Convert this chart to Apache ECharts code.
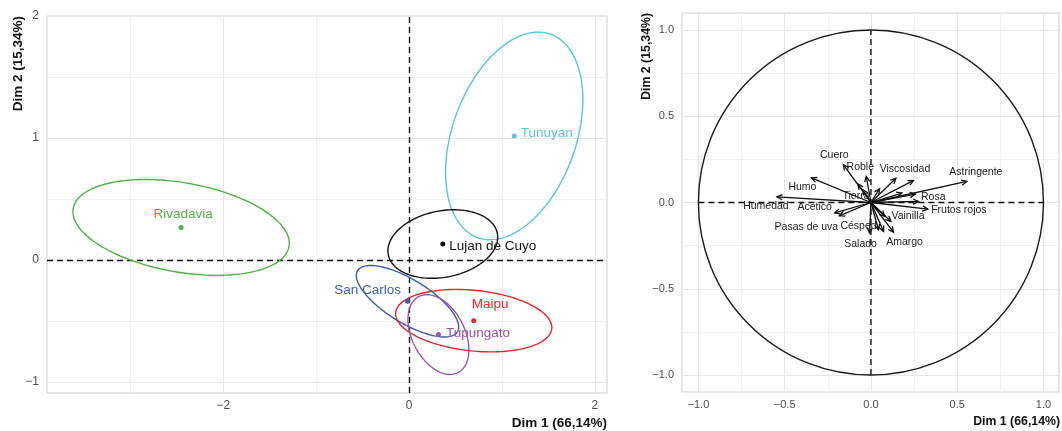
<!DOCTYPE html>
<html>
<head>
<meta charset="utf-8">
<script src="https://cdn.jsdelivr.net/npm/echarts@6/dist/echarts.min.js"></script>
<style>
  html, body { margin: 0; padding: 0; background: #ffffff; }
  #chart { width: 1062px; height: 431px; }
</style>
</head>
<body>
<div id="chart"></div>
<script>
// ---------- Individuals map: group centres on Dim 1 / Dim 2 ----------
const groups    = ['Rivadavia', 'Tunuyan', 'Lujan de Cuyo', 'San Carlos', 'Maipu', 'Tupungato'];
const groupDim1 = [-2.456, 1.131, 0.362, -0.018, 0.695, 0.315];
const groupDim2 = [0.267, 1.017, 0.131, -0.338, -0.497, -0.611];
// Confidence ellipses: half-extent on Dim 1, half-extent on Dim 2, correlation
const ellipseSx = [1.165, 0.739, 0.591, 0.551, 0.841, 0.328];
const ellipseSy = [0.393, 0.851, 0.281, 0.293, 0.256, 0.327];
const ellipseR  = [-0.33, 0.35, 0.20, -0.72, -0.22, -0.38];

// ---------- Variables map: loadings on Dim 1 / Dim 2 ----------
const variables = ['Astringente', 'Humedad', 'Humo', 'Cuero', 'Roble', 'Viscosidad', 'Tierra',
                   'Rosa', 'Frutos rojos', 'Acetico', 'Pasas de uva', 'Vainilla', 'Césped',
                   'Salado', 'Amargo', '', '', '', '', '', '', ''];
const varDim1 = [0.556, -0.545, -0.345, -0.160, -0.027, 0.145, -0.075,
                 0.257, 0.330, -0.210, -0.183, 0.116, 0.044,
                 -0.008, 0.131, 0.247, 0.276, -0.046, 0.073, 0.180, 0.050, 0.080];
const varDim2 = [0.122, 0.033, 0.143, 0.219, 0.151, 0.140, 0.108,
                 0.049, -0.038, -0.060, -0.077, -0.110, -0.158,
                 -0.177, -0.172, 0.128, 0.006, 0.074, -0.168, 0.055, 0.080, -0.080];
const circleRadius = [1];
const zeroSpan = [-1, 1];

// ---------- Axes: tick labels and grid lines ----------
const leftXTicks = [-2, 0, 2];
const leftYTicks = [-1, 0, 1, 2];
const leftXMinor = [-3, -1, 1];
const leftYMinor = [-0.5, 0.5, 1.5];
const rightTicks = [-1, -0.5, 0, 0.5, 1];
const rightMinor = [-0.75, -0.25, 0.25, 0.75];

// ---------- Styling ----------
const groupColors = ['#52b048', '#5ec3d4', '#111111', '#3c5fa7', '#e3262b', '#9a56ab'];
const FONT = 'Liberation Sans, Arial, Helvetica, sans-serif';
const GRID_MAJOR = '#e6e6e6';
const GRID_MINOR = '#f1f1f1';
const DASH = { color: '#141414', width: 1.4, type: [6, 4] };

// Label placement around each group point: [position, offset]
const groupLabelPlace = {
  'Rivadavia':     { position: 'top',   offset: [2, 0] },
  'Tunuyan':       { position: 'right', offset: [0, -3] },
  'Lujan de Cuyo': { position: 'right', offset: [0, 2] },
  'San Carlos':    { position: 'left',  offset: [0, -11] },
  'Maipu':         { position: 'top',   offset: [-2, -3], align: 'left' },
  'Tupungato':     { position: 'right', offset: [1, -1] }
};
// Pixel nudges of variable names relative to arrow tips
const varLabelNudge = {
  'Astringente': [9, -9], 'Humedad': [-11, 9], 'Humo': [-9, 9], 'Cuero': [-9, -10],
  'Roble': [-6, -9], 'Viscosidad': [9, -9], 'Tierra': [-2, 12], 'Rosa': [18, 3],
  'Frutos rojos': [31, 1], 'Acetico': [-20, -6], 'Pasas de uva': [-33, 11],
  'Vainilla': [17, -5], 'Césped': [-20, -4], 'Salado': [-9, 11], 'Amargo': [11, 10]
};

const minus = v => String(v).replace('-', '\u2212');
const fmt1 = v => minus(Number(v).toFixed(1));

function vLines(vals, color, axisKey) {
  return vals.map(v => ({ [axisKey]: v, lineStyle: { color: color, width: 1, type: 'solid' } }));
}

const markBase = {
  silent: true, symbol: 'none', animation: false,
  label: { show: false }, emphasis: { disabled: true }
};

const chart = echarts.init(document.getElementById('chart'), null, { renderer: 'canvas' });

const option = {
  animation: false,
  backgroundColor: '#ffffff',
  textStyle: { fontFamily: FONT },
  grid: [
    { left: 47, top: 16, width: 560, height: 377, show: true, borderColor: '#cfcfcf', borderWidth: 1, backgroundColor: '#ffffff' },
    { left: 682, top: 13, width: 377, height: 379, show: true, borderColor: '#cfcfcf', borderWidth: 1, backgroundColor: '#ffffff' }
  ],
  xAxis: [
    { gridIndex: 0, type: 'value', min: -3.9, max: 2.13,
      axisLine: { show: false }, axisTick: { show: false }, splitLine: { show: false },
      axisLabel: { customValues: leftXTicks, formatter: minus, color: '#4d4d4d', fontSize: 12, margin: 7, fontFamily: FONT } },
    { gridIndex: 1, type: 'value', min: -1.095, max: 1.09,
      axisLine: { show: false }, axisTick: { show: false }, splitLine: { show: false },
      axisLabel: { customValues: rightTicks, formatter: fmt1, color: '#4d4d4d', fontSize: 11, margin: 7, fontFamily: FONT } }
  ],
  yAxis: [
    { gridIndex: 0, type: 'value', min: -1.09, max: 2.0,
      axisLine: { show: false }, axisTick: { show: false }, splitLine: { show: false },
      axisLabel: { customValues: leftYTicks, formatter: minus, color: '#4d4d4d', fontSize: 12, margin: 8, fontFamily: FONT } },
    { gridIndex: 1, type: 'value', min: -1.098, max: 1.098,
      axisLine: { show: false }, axisTick: { show: false }, splitLine: { show: false },
      axisLabel: { customValues: rightTicks, formatter: fmt1, color: '#4d4d4d', fontSize: 11, margin: 8, fontFamily: FONT } }
  ],
  graphic: [
    { type: 'text', x: 607, y: 423, silent: true,
      style: { text: 'Dim 1 (66,14%)', align: 'right', verticalAlign: 'middle', fill: '#111', font: 'bold 13.5px ' + FONT } },
    { type: 'text', x: 18, y: 16, rotation: Math.PI / 2, silent: true,
      style: { text: 'Dim 2 (15,34%)', align: 'right', verticalAlign: 'middle', fill: '#111', font: 'bold 13.5px ' + FONT } },
    { type: 'text', x: 1060, y: 422, silent: true,
      style: { text: 'Dim 1 (66,14%)', align: 'right', verticalAlign: 'middle', fill: '#111', font: 'bold 12.3px ' + FONT } },
    { type: 'text', x: 647, y: 13, rotation: Math.PI / 2, silent: true,
      style: { text: 'Dim 2 (15,34%)', align: 'right', verticalAlign: 'middle', fill: '#111', font: 'bold 12.3px ' + FONT } }
  ],
  series: [
    // Left panel: grid lines and dashed origin lines
    { type: 'line', xAxisIndex: 0, yAxisIndex: 0, z: 1, data: [[0, 0]], showSymbol: false, symbolSize: 0,
      lineStyle: { opacity: 0 }, silent: true,
      markLine: Object.assign({}, markBase, { z: 1,
        data: [].concat(
          vLines(leftXMinor, GRID_MINOR, 'xAxis'), vLines(leftYMinor, GRID_MINOR, 'yAxis'),
          vLines(leftXTicks, GRID_MAJOR, 'xAxis'), vLines(leftYTicks, GRID_MAJOR, 'yAxis'))
      }) },
    { type: 'line', xAxisIndex: 0, yAxisIndex: 0, z: 2, data: [[0, 0]], showSymbol: false, symbolSize: 0,
      lineStyle: { opacity: 0 }, silent: true,
      markLine: Object.assign({}, markBase, { z: 2,
        lineStyle: DASH,
        data: [{ xAxis: 0 }, { yAxis: 0 }]
      }) },
    // Confidence ellipses
    { type: 'custom', xAxisIndex: 0, yAxisIndex: 0, z: 3, silent: true,
      data: groups.map((g, i) => [groupDim1[i], groupDim2[i]]),
      renderItem: function (params, api) {
        const i = params.dataIndex;
        const k = Math.sqrt(1 - ellipseR[i] * ellipseR[i]);
        const pts = [];
        const n = 160;
        for (let j = 0; j <= n; j++) {
          const t = 2 * Math.PI * j / n;
          pts.push(api.coord([
            groupDim1[i] + ellipseSx[i] * Math.cos(t),
            groupDim2[i] + ellipseSy[i] * (ellipseR[i] * Math.cos(t) + k * Math.sin(t))
          ]));
        }
        return { type: 'polyline', shape: { points: pts },
                 style: { fill: 'none', stroke: groupColors[i], lineWidth: 1.4 } };
      } },
    // Group centres with names
    { type: 'scatter', xAxisIndex: 0, yAxisIndex: 0, z: 4, symbolSize: 5, silent: true,
      data: groups.map((g, i) => {
        const p = groupLabelPlace[g];
        const lab = { show: true, formatter: g, position: p.position, offset: p.offset, distance: 4,
                      color: groupColors[i], fontSize: 13.5, fontFamily: FONT };
        if (p.align) lab.align = p.align;
        return { name: g, value: [groupDim1[i], groupDim2[i]],
                 itemStyle: { color: groupColors[i], opacity: 1 }, label: lab };
      }) },

    // Right panel: grid lines
    { type: 'line', xAxisIndex: 1, yAxisIndex: 1, z: 1, data: [[0, 0]], showSymbol: false, symbolSize: 0,
      lineStyle: { opacity: 0 }, silent: true,
      markLine: Object.assign({}, markBase, { z: 1,
        data: [].concat(
          vLines(rightMinor, GRID_MINOR, 'xAxis'), vLines(rightMinor, GRID_MINOR, 'yAxis'),
          vLines(rightTicks, GRID_MAJOR, 'xAxis'), vLines(rightTicks, GRID_MAJOR, 'yAxis'))
      }) },
    // Dashed axes through the origin, limited to the unit circle
    { type: 'line', xAxisIndex: 1, yAxisIndex: 1, z: 2, silent: true, showSymbol: false,
      data: zeroSpan.map(v => [v, 0]), lineStyle: DASH },
    { type: 'line', xAxisIndex: 1, yAxisIndex: 1, z: 2, silent: true, showSymbol: false,
      data: zeroSpan.map(v => [0, v]), lineStyle: DASH },
    // Correlation circle
    { type: 'custom', xAxisIndex: 1, yAxisIndex: 1, z: 3, silent: true,
      data: circleRadius.map(r => [0, 0, r]),
      renderItem: function (params, api) {
        const c = api.coord([api.value(0), api.value(1)]);
        const e = api.coord([api.value(0) + api.value(2), api.value(1)]);
        return { type: 'circle', shape: { cx: c[0], cy: c[1], r: e[0] - c[0] },
                 style: { fill: 'none', stroke: '#1a1a1a', lineWidth: 1.4 } };
      } },
    // Variable arrows with names
    { type: 'custom', xAxisIndex: 1, yAxisIndex: 1, z: 4, silent: true,
      data: variables.map((v, i) => [varDim1[i], varDim2[i]]),
      renderItem: function (params, api) {
        const i = params.dataIndex;
        const o = api.coord([0, 0]);
        const p = api.coord([api.value(0), api.value(1)]);
        const ang = Math.atan2(p[1] - o[1], p[0] - o[0]);
        const L = 6, a = Math.PI / 7;
        const h1 = [p[0] - L * Math.cos(ang - a), p[1] - L * Math.sin(ang - a)];
        const h2 = [p[0] - L * Math.cos(ang + a), p[1] - L * Math.sin(ang + a)];
        const children = [
          { type: 'line', shape: { x1: o[0], y1: o[1], x2: p[0], y2: p[1] },
            style: { stroke: '#111', lineWidth: 1.3 } },
          { type: 'polyline', shape: { points: [h1, p, h2] },
            style: { stroke: '#111', lineWidth: 1.3, fill: 'none' } }
        ];
        const name = variables[i];
        if (name) {
          const nd = varLabelNudge[name] || [0, -8];
          children.push({ type: 'text', x: p[0] + nd[0], y: p[1] + nd[1], z2: 10,
            style: { text: name, align: 'center', verticalAlign: 'middle',
                     fill: '#1a1a1a', font: '10.5px ' + FONT } });
        }
        return { type: 'group', children: children };
      } }
  ]
};

chart.setOption(option);
</script>
</body>
</html>
